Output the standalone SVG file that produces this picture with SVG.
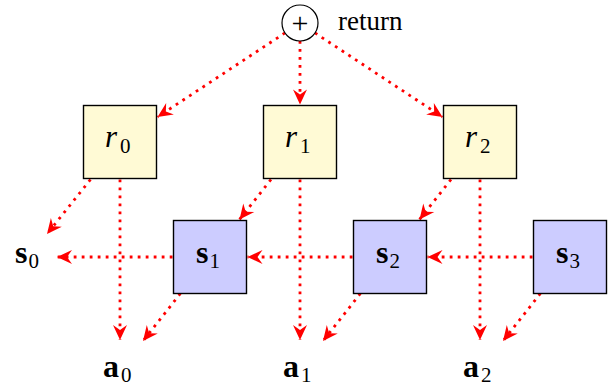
<svg xmlns="http://www.w3.org/2000/svg" width="613" height="388" viewBox="0 0 613 388">
<style>
.box{stroke:#000;stroke-width:1.4}
.r{fill:#FFFAD5}
.s{fill:#CCCCFF}
.con line{stroke:#FF0000;stroke-width:2.8;stroke-dasharray:2.8 5.2;fill:none;marker-end:url(#ah)}
.it{font-style:italic;font-size:31px}
.bd{font-weight:bold;font-size:32px}
.sub{font-size:21px}
.txt{font-size:27px}
</style>
<defs>
<marker id="ah" markerUnits="userSpaceOnUse" viewBox="-16 -8 17 16" refX="0" refY="0" markerWidth="17" markerHeight="16" orient="auto">
<path d="M0,0 L-15,-7 L-10,0 L-15,7 Z" fill="#FF0000"/>
</marker>
</defs>
<g id="connectors" class="con">
<line x1="285" y1="32.9" x2="157.5" y2="117"/>
<line x1="300" y1="41" x2="300" y2="104.5"/>
<line x1="315" y1="32.9" x2="442.5" y2="117"/>
<line x1="90.5" y1="179.5" x2="47" y2="234"/>
<line x1="271" y1="179.5" x2="239.5" y2="219.5"/>
<line x1="451" y1="179.5" x2="419.5" y2="219.5"/>
<line x1="120" y1="179.5" x2="120" y2="340"/>
<line x1="300" y1="179.5" x2="300" y2="340"/>
<line x1="480" y1="179.5" x2="480" y2="340"/>
<line x1="172.5" y1="257" x2="57" y2="257"/>
<line x1="352.5" y1="257" x2="247.5" y2="257"/>
<line x1="532.5" y1="257" x2="427.5" y2="257"/>
<line x1="180.4" y1="293.5" x2="143" y2="341"/>
<line x1="360.4" y1="293.5" x2="323" y2="341"/>
<line x1="540.4" y1="293.5" x2="503" y2="341"/>
</g>
<g id="plus" font-family="Liberation Serif, serif" fill="#000">
<circle cx="300" cy="23" r="18" fill="#fff" stroke="#000" stroke-width="1.2"/>
<text x="300" y="32.5" font-size="30" text-anchor="middle">+</text>
<text x="338" y="29.5" class="txt">return</text>
</g>
<g id="nodes" font-family="Liberation Serif, serif" fill="#000">
<g id="r0">
<rect class="box r" x="83.5" y="105.5" width="73" height="73"/>
<text class="it" x="105" y="147">r</text><text class="sub" x="120" y="152.5">0</text>
</g>
<g id="r1">
<rect class="box r" x="263.5" y="105.5" width="73" height="73"/>
<text class="it" x="285" y="147">r</text><text class="sub" x="300" y="152.5">1</text>
</g>
<g id="r2">
<rect class="box r" x="443.5" y="105.5" width="73" height="73"/>
<text class="it" x="465" y="147">r</text><text class="sub" x="480" y="152.5">2</text>
</g>
<g id="s0">
<text class="bd" x="15" y="262.5">s</text><text class="sub" x="28.5" y="267.5">0</text>
</g>
<g id="s1">
<rect class="box s" x="173.5" y="220.5" width="73" height="73"/>
<text class="bd" x="196" y="263">s</text><text class="sub" x="209.5" y="267.5">1</text>
</g>
<g id="s2">
<rect class="box s" x="353.5" y="220.5" width="73" height="73"/>
<text class="bd" x="376" y="263">s</text><text class="sub" x="389.5" y="267.5">2</text>
</g>
<g id="s3">
<rect class="box s" x="533.5" y="220.5" width="73" height="73"/>
<text class="bd" x="556" y="263">s</text><text class="sub" x="569.5" y="267.5">3</text>
</g>
<g id="a0">
<text class="bd" x="103" y="377">a</text><text class="sub" x="121" y="381.5">0</text>
</g>
<g id="a1">
<text class="bd" x="283" y="377">a</text><text class="sub" x="301" y="381.5">1</text>
</g>
<g id="a2">
<text class="bd" x="463" y="377">a</text><text class="sub" x="481" y="381.5">2</text>
</g>
</g>
</svg>
